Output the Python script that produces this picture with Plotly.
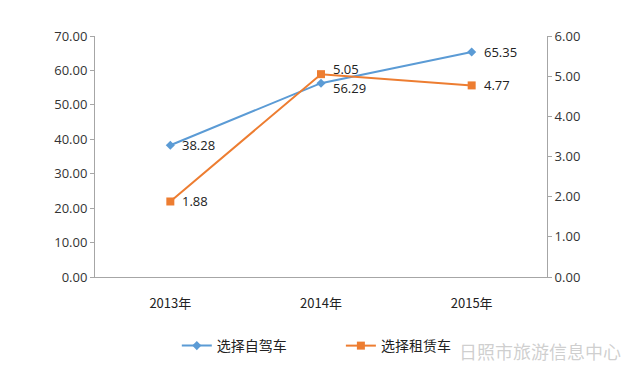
import plotly.graph_objects as go

categories = ["2013年", "2014年", "2015年"]
self_drive = [38.28, 56.29, 65.35]
rental = [1.88, 5.05, 4.77]
left_ticks = [0, 10, 20, 30, 40, 50, 60, 70]
right_ticks = [0, 1, 2, 3, 4, 5, 6]
label_yshift_drive = [0, -5, 0]
label_yshift_rental = [0, 5, 0]

FONT = "Open Sans, Noto Sans CJK SC, sans-serif"
BLUE = "#5B9BD5"
ORANGE = "#ED7D31"

fig = go.Figure()
fig.add_trace(go.Scatter(
    x=categories, y=self_drive, name="选择自驾车", mode="lines+markers",
    line=dict(color=BLUE, width=2), marker=dict(symbol="diamond", size=7, color=BLUE),
    legend="legend",
))
fig.add_trace(go.Scatter(
    x=categories, y=rental, name="选择租赁车", mode="lines+markers", yaxis="y2",
    line=dict(color=ORANGE, width=2), marker=dict(symbol="square", size=8, color=ORANGE),
    legend="legend2",
))

for c, v, dy in zip(categories, self_drive, label_yshift_drive):
    fig.add_annotation(x=c, y=v, xref="x", yref="y", text=f"{v:.2f}", showarrow=False,
                       xanchor="left", yanchor="middle", xshift=10, yshift=dy,
                       font=dict(size=13, color="#222222", family=FONT))
for c, v, dy in zip(categories, rental, label_yshift_rental):
    fig.add_annotation(x=c, y=v, xref="x", yref="y2", text=f"{v:.2f}", showarrow=False,
                       xanchor="left", yanchor="middle", xshift=10, yshift=dy,
                       font=dict(size=13, color="#222222", family=FONT))

legend_common = dict(
    orientation="h", yanchor="top", y=-0.22, xanchor="left",
    font=dict(size=14, family="Noto Sans CJK SC", color="#222222"),
    bgcolor="rgba(0,0,0,0)",
)

fig.update_layout(
    width=632, height=374,
    margin=dict(l=87, r=93, t=28, b=105, autoexpand=False),
    paper_bgcolor="white", plot_bgcolor="white",
    font=dict(family=FONT, size=13, color="#333333"),
    xaxis=dict(
        type="category", showline=True, linecolor="#A6A6A6", linewidth=1,
        showgrid=False, ticks="", tickfont=dict(size=13, family="Noto Sans CJK SC", color="#222222"),
        range=[-0.5, 2.5], automargin=False, ticklabelstandoff=14,
    ),
    yaxis=dict(
        range=[0, 70], tickvals=left_ticks, tickformat=".2f",
        showline=True, linecolor="#A6A6A6", linewidth=1, showgrid=False,
        ticks="outside", ticklen=4, tickcolor="#A6A6A6", zeroline=False,
        tickfont=dict(size=13), automargin=False,
    ),
    yaxis2=dict(
        range=[0, 6], tickvals=right_ticks, tickformat=".2f", overlaying="y", side="right",
        showline=True, linecolor="#A6A6A6", linewidth=1, showgrid=False,
        ticks="outside", ticklen=4, tickcolor="#A6A6A6", zeroline=False,
        tickfont=dict(size=13), automargin=False,
    ),
    legend=dict(x=0.181, **legend_common),
    legend2=dict(x=0.544, **legend_common),
    showlegend=True,
)

fig.add_annotation(
    text="日照市旅游信息中心", xref="paper", yref="paper", x=1.168, y=-0.307,
    xanchor="right", yanchor="middle", showarrow=False,
    font=dict(size=18, color="rgba(175,175,175,0.6)", family="Noto Sans CJK SC"),
)

fig.write_html("out.html")
